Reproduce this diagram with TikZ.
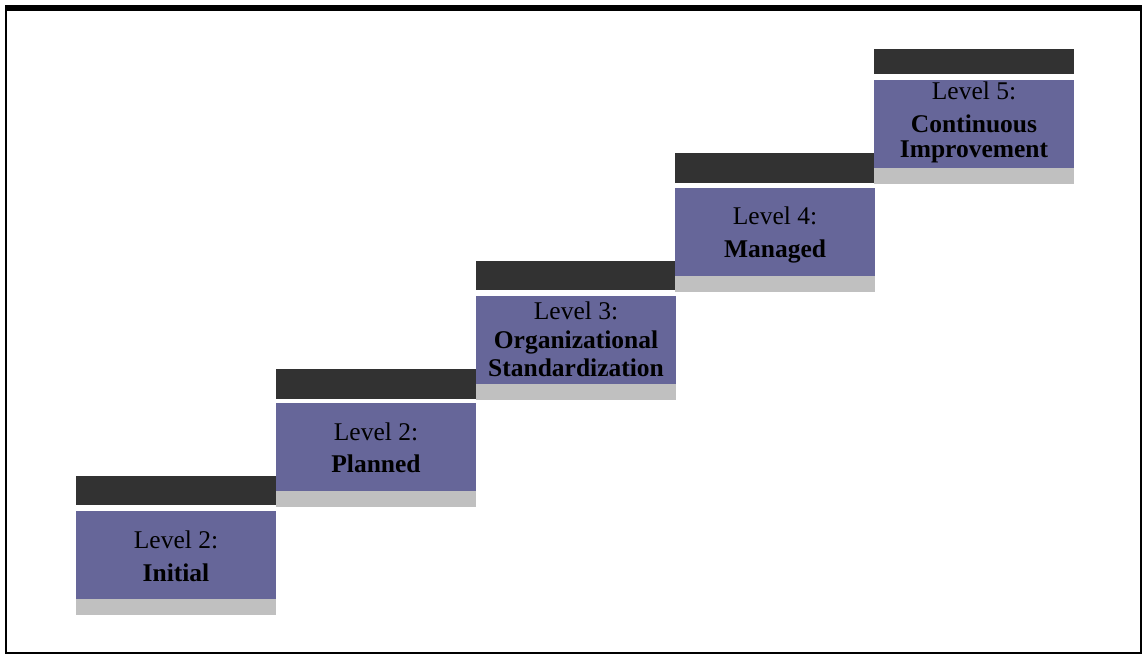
\documentclass[tikz,border=0pt]{standalone}
\usepackage{fontspec}
\setmainfont{Liberation Serif}
\definecolor{bardark}{HTML}{323232}
\definecolor{barpurple}{HTML}{666699}
\definecolor{bargray}{HTML}{C0C0C0}
\tikzset{
  boxbase/.style={rectangle, inner sep=0pt, outer sep=0pt, draw=none, anchor=north west, minimum width=200pt},
  darkbar/.style={boxbase, fill=bardark},
  purplebox/.style={boxbase, fill=barpurple},
  graybar/.style={boxbase, fill=bargray},
  lvltext/.style={anchor=base, inner sep=0pt, font=\fontsize{25.5}{27}\selectfont, text=black},
  nametext/.style={lvltext, font=\fontsize{25.5}{27}\selectfont\bfseries},
}
\begin{document}
\begin{tikzpicture}[x=1pt,y=-1pt]
\useasboundingbox (0,0) rectangle (1143,655);
% frame
\fill[black] (5,5) rectangle (1142,11);
\draw[line width=2.3pt] (6.2,8) -- (6.2,653) -- (1141,653) -- (1141,8);

% step 1
\node[darkbar, minimum height=29pt] (d1) at (76,476) {};
\node[purplebox, minimum height=88pt] (p1) at (76,511) {};
\node[graybar, minimum height=16pt] (g1) at (76,599) {};
\node[lvltext] (l1) at (176,548) {Level 2:};
\node[nametext] (n1) at (176,581) {Initial};

% step 2
\node[darkbar, minimum height=30pt] (d2) at (276,369) {};
\node[purplebox, minimum height=88pt] (p2) at (276,403) {};
\node[graybar, minimum height=16pt] (g2) at (276,491) {};
\node[lvltext] (l2) at (376,440) {Level 2:};
\node[nametext] (n2) at (376,472) {Planned};

% step 3
\node[darkbar, minimum height=29pt] (d3) at (476,261) {};
\node[purplebox, minimum height=88pt] (p3) at (476,296) {};
\node[graybar, minimum height=16pt] (g3) at (476,384) {};
\node[lvltext] (l3) at (576,319) {Level 3:};
\node[nametext] (n3a) at (576,348) {Organizational};
\node[nametext] (n3b) at (576,376) {Standardization};

% step 4
\node[darkbar, minimum height=30pt] (d4) at (675,153) {};
\node[purplebox, minimum height=88pt] (p4) at (675,188) {};
\node[graybar, minimum height=16pt] (g4) at (675,276) {};
\node[lvltext] (l4) at (775,225) {Level 4:};
\node[nametext] (n4) at (775,257) {Managed};

% step 5
\node[darkbar, minimum height=25pt] (d5) at (874,49) {};
\node[purplebox, minimum height=88pt] (p5) at (874,80) {};
\node[graybar, minimum height=16pt] (g5) at (874,168) {};
\node[lvltext] (l5) at (974,100) {Level 5:};
\node[nametext] (n5a) at (974,133) {Continuous};
\node[nametext] (n5b) at (974,158) {Improvement};
\end{tikzpicture}
\end{document}
